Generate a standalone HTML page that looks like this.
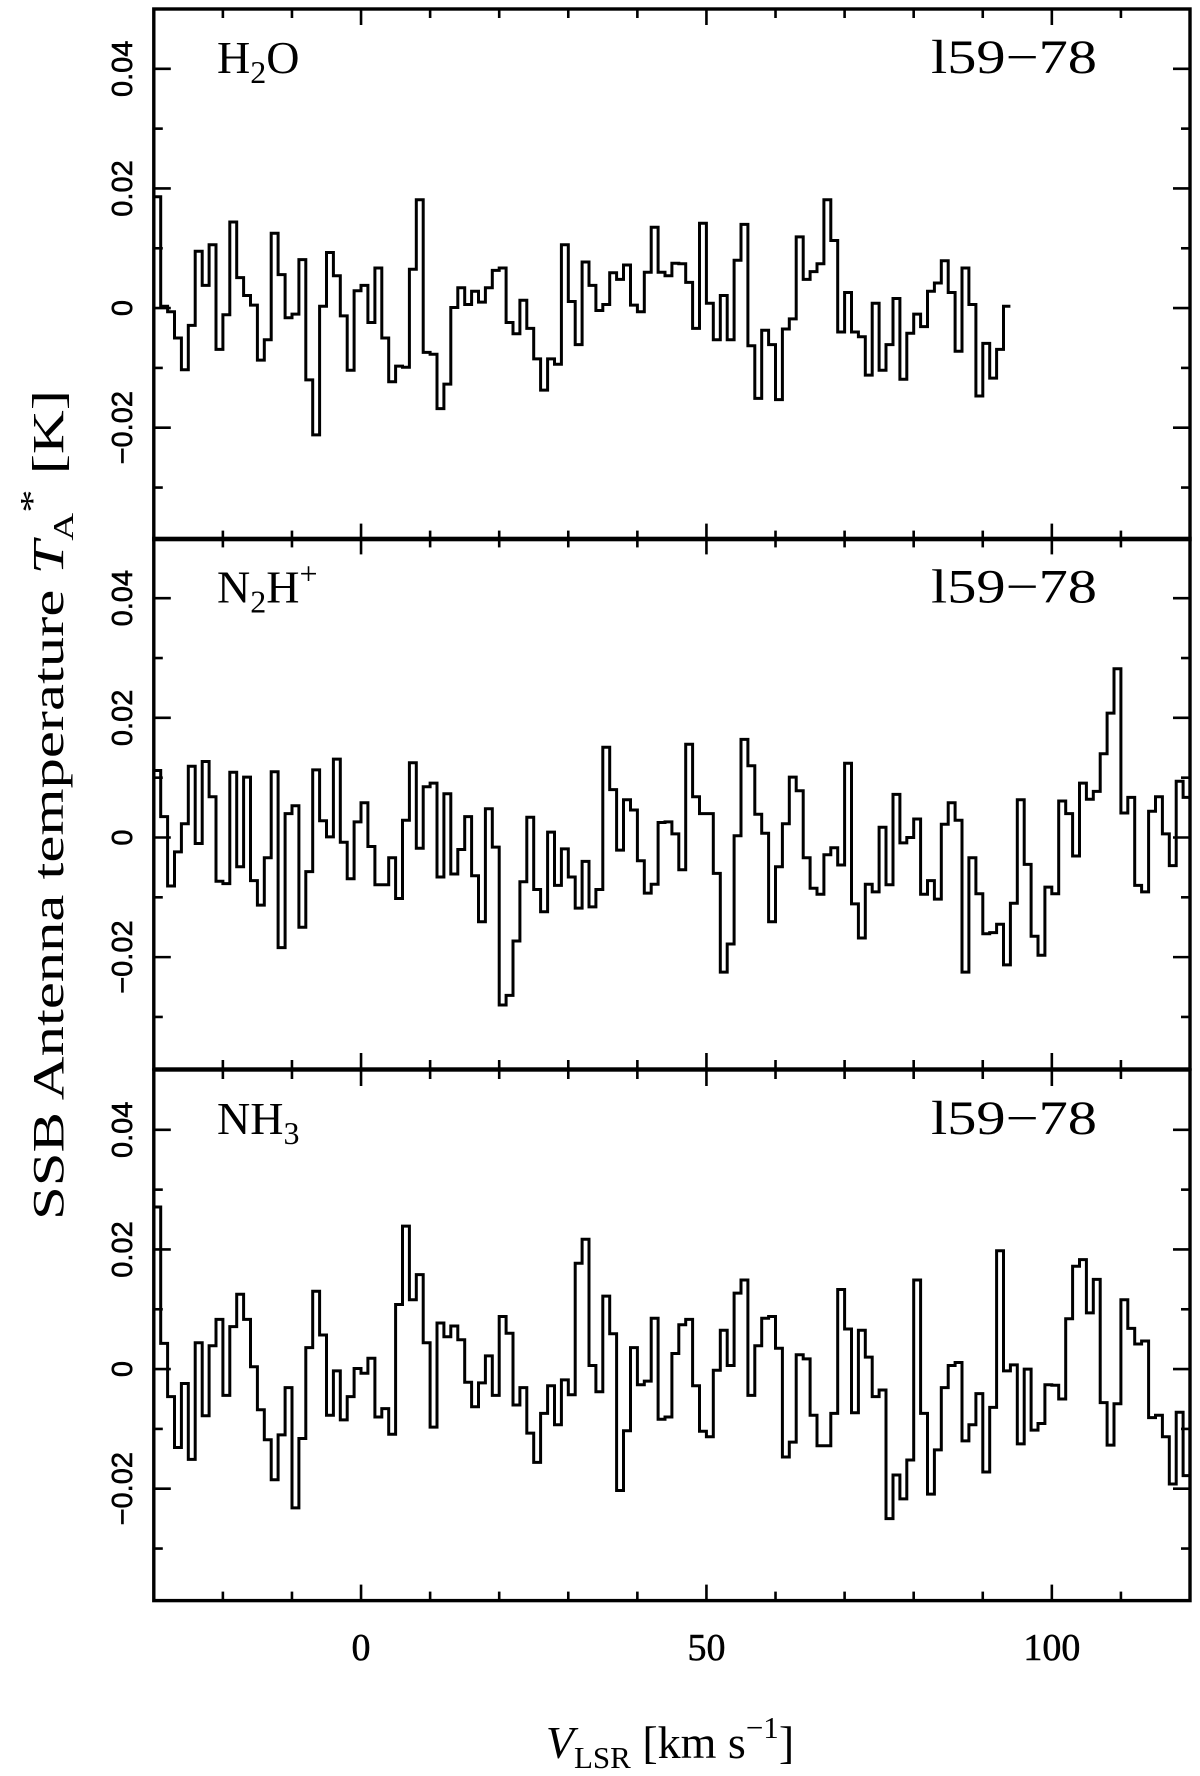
<!DOCTYPE html>
<html><head><meta charset="utf-8"><style>
html,body{margin:0;padding:0;background:#fff;}
svg{display:block;}
</style></head><body>
<svg id="chart" width="1200" height="1776" viewBox="0 0 1200 1776" xmlns="http://www.w3.org/2000/svg">
<g id="root"></g>
<text transform="translate(63,805) rotate(-90)" text-anchor="middle" font-family="Liberation Serif, serif" font-size="44" textLength="830" lengthAdjust="spacingAndGlyphs">SSB Antenna temperature <tspan font-style="italic">T</tspan><tspan font-size="28" dy="10">A</tspan><tspan font-size="34" dy="-30">*</tspan><tspan dy="20"> [K]</tspan></text>
<text x="670" y="1758" text-anchor="middle" font-family="Liberation Serif, serif" font-size="46"><tspan font-style="italic">V</tspan><tspan font-size="31" dy="10">LSR</tspan><tspan dy="-10"> [km s</tspan><tspan font-size="31" dy="-20">−1</tspan><tspan dy="20">]</tspan></text>
</svg>
<script>
// Data: velocity channels (km/s) and antenna temperatures in mK
const v0 = -30;
const dv = 1;
const h2oValues = [18.6,0.3,-0.6,-5.0,-10.3,-2.9,9.5,3.8,10.6,-6.9,-1.1,14.4,5.1,2.1,0.5,-8.7,-5.3,12.5,5.6,-1.6,-1.0,8.1,-12.0,-21.2,0.3,9.3,5.4,-1.3,-10.4,2.9,3.8,-2.4,6.7,-5.0,-12.3,-9.7,-9.9,6.5,18.1,-7.4,-7.7,-16.8,-12.7,0.1,3.4,0.6,2.8,1.0,3.4,6.3,6.7,-2.4,-4.3,1.3,-3.4,-8.5,-13.7,-8.5,-9.4,10.6,1.1,-6.1,7.7,3.8,-0.4,0.6,5.9,4.8,7.2,0.5,-0.6,6.0,13.5,6.0,5.4,7.5,7.4,4.3,-3.4,14.2,0.8,-5.3,2.1,-5.3,8.0,14.0,-6.3,-15.1,-3.7,-6.1,-15.3,-3.5,-1.8,11.9,4.8,6.1,7.4,18.1,11.3,-4.0,2.6,-4.0,-4.8,-11.2,0.8,-10.4,-6.1,1.6,-11.9,-4.2,-1.0,-3.1,2.8,4.2,7.9,2.6,-7.2,6.7,0.6,-14.7,-5.9,-11.7,-6.9,0.3];
const n2hValues = [11.2,3.5,-8.1,-2.4,2.3,11.9,-1.0,12.7,6.8,-7.3,-7.7,10.9,-4.9,10.1,-7.2,-11.3,-3.4,11.0,-18.4,4.0,5.3,-15.0,-5.7,11.3,2.8,0.1,13.1,-0.8,-6.9,2.6,5.8,-1.5,-7.9,-7.9,-3.4,-10.2,2.9,12.5,-1.8,8.5,9.1,-6.6,7.3,-6.1,-2.0,3.5,-6.4,-14.1,4.8,-1.6,-28.0,-26.4,-17.3,-7.4,3.4,-8.7,-12.4,0.9,-8.0,-1.9,-6.6,-11.8,-4.0,-11.6,-8.7,15.1,8.0,-2.1,6.3,4.6,-3.9,-9.3,-7.8,2.5,2.6,0.6,-5.4,15.6,6.8,4.0,4.0,-6.0,-22.5,-17.8,0.3,16.4,12.0,3.9,0.7,-14.1,-4.9,2.3,10.1,7.8,-3.4,-8.5,-9.5,-2.9,-1.7,-4.6,12.4,-11.1,-16.8,-7.8,-9.1,1.7,-7.9,7.2,-0.9,0.0,3.1,-9.5,-7.2,-10.3,2.2,5.8,2.9,-22.5,-3.4,-9.4,-16.1,-15.9,-14.5,-21.3,-11.0,6.3,-4.5,-16.5,-19.7,-8.3,-9.4,6.1,4.0,-3.1,9.1,6.4,7.7,14.0,20.8,28.2,4.1,6.7,-8.0,-9.1,4.4,6.8,0.6,-4.7,9.4,6.7];
const nh3Values = [27.1,4.3,-4.6,-13.1,-2.4,-15.1,4.4,-7.8,3.9,8.3,-4.4,7.1,12.5,8.3,0.4,-6.8,-11.8,-18.5,-11.0,-3.1,-23.2,-11.6,3.6,13.0,5.7,-7.7,-0.3,-8.5,-4.6,0.1,-0.7,1.8,-8.0,-6.6,-10.9,10.8,23.9,11.6,15.8,4.4,-9.7,7.7,5.4,7.2,4.9,-2.2,-6.3,-2.3,2.2,-4.4,8.8,6.0,-6.0,-3.1,-10.7,-15.6,-7.4,-2.8,-9.3,-1.8,-4.3,17.7,21.7,0.6,-3.8,12.2,5.9,-20.3,-10.3,3.6,-2.6,-2.0,8.5,-8.4,-8.0,2.6,7.4,8.3,-2.8,-10.4,-11.3,-0.2,6.5,0.6,12.7,14.9,-4.4,3.9,8.5,8.8,3.5,-14.7,-12.2,2.4,1.7,-7.7,-12.8,-12.8,-7.4,13.3,6.7,-7.3,6.5,2.0,-4.6,-3.5,-25.0,-17.7,-21.7,-15.2,14.9,-7.4,-20.9,-13.5,-3.1,0.6,1.1,-12.0,-9.3,-4.1,-17.2,-6.4,19.8,-0.3,0.7,-12.5,0.0,-10.2,-9.1,-2.6,-2.7,-5.0,8.4,17.2,18.3,9.4,15.0,-5.6,-12.7,-5.8,11.6,6.8,4.2,4.7,-8.1,-7.7,-11.3,-19.2,-7.2,-17.8];
const moleculeLabels = ["H2O","N2H+","NH3"];
const sourceLabel = "l59−78";
const xTickLabels = [0,50,100];
const yTickLabels = [0.04,0.02,0,-0.02];

const NS = "http://www.w3.org/2000/svg";
const root = document.getElementById('root');
const X0 = 153.8, X1 = 1190, XMIN = -30, XMAX = 120;
const panelTops = [9, 538.4, 1070];
const PH = 530.6, YMAX = 0.05, YMIN = -0.0387;
function xs(v){ return X0 + (v - XMIN) / (XMAX - XMIN) * (X1 - X0); }
function ys(p, t){ return panelTops[p] + (YMAX - t) / (YMAX - YMIN) * PH; }
function mk(tag, attrs, parent){ const e = document.createElementNS(NS, tag); for (const k in attrs) e.setAttribute(k, attrs[k]); (parent||root).appendChild(e); return e; }

const series = [h2oValues, n2hValues, nh3Values];
const panelNames = ['h2o','n2h','nh3'];
for (let p = 0; p < 3; p++) {
  const g = mk('g', {});
  
  
  const top = panelTops[p], bot = top + PH;
  const cp = mk('clipPath', {id: 'clip' + p}, g);
  mk('rect', {x: X0, y: top, width: X1 - X0, height: PH}, cp);
  const vals = series[p];
  let d = '';
  for (let i = 0; i < vals.length; i++) {
    const y = ys(p, vals[i] / 1000);
    const xa = xs(v0 + i * dv), xb = xs(v0 + (i + 1) * dv);
    d += (i === 0 ? 'M' : 'L') + xa.toFixed(1) + ',' + y.toFixed(1) + 'L' + xb.toFixed(1) + ',' + y.toFixed(1);
  }
  const path = mk('path', {d: d, fill: 'none', stroke: '#000', 'stroke-width': 3, 'stroke-linejoin': 'miter', 'clip-path': 'url(#clip' + p + ')'}, g);
  
  
  for (let v = -20; v <= 120; v += 10) {
    const major = v % 50 === 0, L = major ? 16 : 9, x = xs(v);
    mk('line', {x1: x, y1: top, x2: x, y2: top + L, stroke: '#000', 'stroke-width': 2.6}, g);
    mk('line', {x1: x, y1: bot, x2: x, y2: bot - L, stroke: '#000', 'stroke-width': 2.6}, g);
  }
  for (let t = -3; t <= 4; t++) {
    const val = t / 100, major = t % 2 === 0, L = major ? 17 : 9, y = ys(p, val);
    mk('line', {x1: X0, y1: y, x2: X0 + L, y2: y, stroke: '#000', 'stroke-width': 2.6}, g);
    mk('line', {x1: X1, y1: y, x2: X1 - L, y2: y, stroke: '#000', 'stroke-width': 2.6}, g);
  }
  for (const t of yTickLabels) {
    const y = ys(p, t);
    const tx = mk('text', {transform: 'translate(132,' + y.toFixed(1) + ') rotate(-90)', 'text-anchor': 'middle', 'font-family': 'Liberation Sans, sans-serif', 'font-size': 29, 'stroke': '#000', 'stroke-width': 0.6}, g);
    
    
    tx.textContent = t === 0 ? '0' : (t < 0 ? '−' + Math.abs(t).toFixed(2) : t.toFixed(2));
  }
  const fr = mk('rect', {x: X0, y: top, width: X1 - X0, height: PH, fill: 'none', stroke: '#000', 'stroke-width': 3.4}, g);
  
  
  const ml = mk('text', {x: 217, y: top + 64, 'font-family': 'Liberation Serif, serif', 'font-size': 46}, g);
  
  
  const lab = moleculeLabels[p];
  if (lab === 'H2O') ml.innerHTML = 'H<tspan font-size="32" dy="10">2</tspan><tspan dy="-10">O</tspan>';
  else if (lab === 'N2H+') ml.innerHTML = 'N<tspan font-size="32" dy="10">2</tspan><tspan dy="-10">H</tspan><tspan font-size="32" dy="-18">+</tspan>';
  else ml.innerHTML = 'NH<tspan font-size="32" dy="10">3</tspan>';
  const sl = mk('text', {x: 931, y: top + 64, 'font-family': 'Liberation Serif, serif', 'font-size': 48, textLength: 166, lengthAdjust: 'spacingAndGlyphs'}, g);
  
  
  sl.textContent = sourceLabel;
}
for (const v of xTickLabels) {
  const t = mk('text', {x: xs(v), y: 1660, 'text-anchor': 'middle', 'font-family': 'Liberation Serif, serif', 'font-size': 38, 'stroke': '#000', 'stroke-width': 0.5});
  
  
  t.textContent = String(v);
}
</script>
</body></html>
